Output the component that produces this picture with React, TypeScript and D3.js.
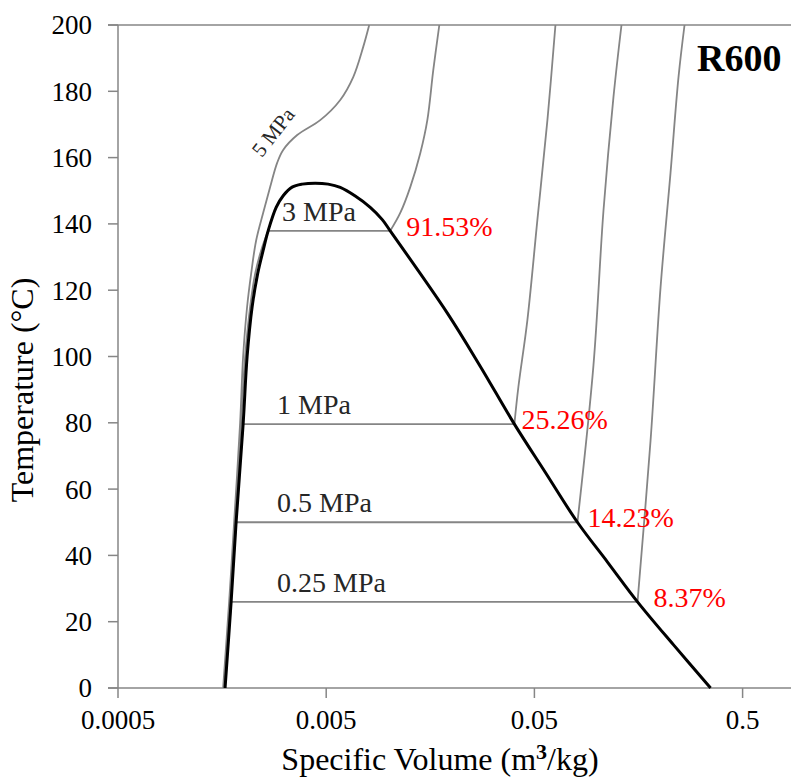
import React from 'react';
import * as d3 from 'd3';

const W = 791;
const H = 778;

// Saturation dome (specific volume m3/kg, temperature °C)
const satLiquid: [number, number][] = [
  [0.001634, 0], [0.001747, 26], [0.001846, 50], [0.001995, 79.6], [0.002085, 100],
  [0.002204, 115], [0.002343, 125], [0.002489, 132], [0.002631, 137.9], [0.002875, 145],
  [0.003107, 148.5], [0.00343, 151.1], [0.003833, 152], [0.004427, 152.3],
];
const satVapor: [number, number][] = [
  [0.005111, 152], [0.00584, 151], [0.006893, 148.4], [0.008136, 145], [0.009295, 141.3],
  [0.01015, 137.9], [0.01909, 113.1], [0.0275, 97],
  [0.04007, 79.6], [0.05648, 65], [0.08048, 50], [0.1122, 38], [0.1564, 26],
  [0.233, 13], [0.3509, 0],
];

// Isobars: compressed-liquid part, and superheated-vapour part
const liquid025: [number, number][] = [[0.001626, 0], [0.001747, 26]];
const vapor025: [number, number][] = [[0.1564, 26], [0.1806, 74.5], [0.2017, 120.7], [0.2253, 155.4], [0.2461, 184.3], [0.2631, 200]];

const liquid05: [number, number][] = [[0.001626, 0], [0.00174, 26], [0.001846, 50]];
const vapor05: [number, number][] = [[0.08048, 50], [0.0961, 97.4], [0.1073, 143.9], [0.1199, 178.3], [0.131, 200]];

const liquid1: [number, number][] = [[0.001626, 0], [0.00174, 26], [0.001836, 50], [0.001995, 79.6]];
const vapor1: [number, number][] = [[0.04007, 79.6], [0.04188, 90.8], [0.04627, 111], [0.05168, 141.2], [0.05774, 171.3], [0.0631, 200]];

const liquid3: [number, number][] = [
  [0.001616, 0], [0.001728, 26], [0.001826, 50], [0.001951, 80], [0.00204, 100],
  [0.002156, 115], [0.002279, 125], [0.002435, 132], [0.002631, 137.9],
];
const vapor3: [number, number][] = [[0.01015, 137.9], [0.01134, 143.3], [0.01267, 151.1], [0.01416, 161.4], [0.0153, 171.3], [0.01634, 186.4], [0.01747, 200]];

const isobar5: [number, number][] = [
  [0.001599, 0], [0.001709, 26], [0.001806, 50], [0.00193, 80], [0.001995, 100],
  [0.002085, 115], [0.00218, 125], [0.002304, 135], [0.002489, 143.3], [0.00269, 151.1],
  [0.002906, 158.4], [0.003107, 162.3], [0.003628, 166.8], [0.004679, 171.3], [0.00584, 177.4],
  [0.006742, 184.3], [0.00753, 193.4], [0.008046, 200],
];

const satTemps = [26, 50, 79.6, 137.9];
const isobarLabels = ['0.25 MPa', '0.5 MPa', '1 MPa', '3 MPa'];
const qualityLabels = ['8.37%', '14.23%', '25.26%', '91.53%'];
const liquidParts = [liquid025, liquid05, liquid1, liquid3];
const vaporParts = [vapor025, vapor05, vapor1, vapor3];

const xTicks = [0.0005, 0.005, 0.05, 0.5];
const xTickLabels = ['0.0005', '0.005', '0.05', '0.5'];
const yTicks = [0, 20, 40, 60, 80, 100, 120, 140, 160, 180, 200];

const FONT = "'Liberation Serif', 'Times New Roman', Times, serif";

export default function App() {
  const x = d3.scaleLog().domain([0.0005, 5]).range([118, 118 + 208.2 * 4]);
  const y = d3.scaleLinear().domain([0, 200]).range([688, 25]);

  const curve = d3
    .line<[number, number]>()
    .x((d) => x(d[0]))
    .y((d) => y(d[1]))
    .curve(d3.curveCatmullRom.alpha(0.5));

  const dome = [...satLiquid, ...satVapor];
  const grey = '#858585';
  const axisGrey = '#868686';

  const labelX = [277, 277, 277, 282];
  const qualityDx = [16, 10, 7, 16];

  return (
    <svg
      width={W}
      height={H}
      style={{ position: 'absolute', left: 0, top: 0, background: '#fff', display: 'block' }}
      fontFamily={FONT}
    >
      <rect x={0} y={0} width={W} height={H} fill="#fff" />

      {/* plot frame */}
      <line x1={108} x2={W} y1={y(200)} y2={y(200)} stroke={axisGrey} strokeWidth={1.5} />
      <line x1={x(0.0005)} x2={x(0.0005)} y1={y(200)} y2={y(0)} stroke={axisGrey} strokeWidth={1.5} />
      <line x1={108} x2={W} y1={y(0)} y2={y(0)} stroke={axisGrey} strokeWidth={1.5} />

      {/* y ticks */}
      {yTicks.map((t) => (
        <g key={'y' + t}>
          <line x1={108} x2={118} y1={y(t)} y2={y(t)} stroke={axisGrey} strokeWidth={1.5} />
          <text x={92} y={y(t)} dy="0.35em" textAnchor="end" fontSize={27} fill="#000">
            {t}
          </text>
        </g>
      ))}

      {/* x ticks */}
      {xTicks.map((t, i) => (
        <g key={'x' + t}>
          <line x1={x(t)} x2={x(t)} y1={y(0)} y2={y(0) + 10} stroke={axisGrey} strokeWidth={1.5} />
          <text x={x(t)} y={729} textAnchor="middle" fontSize={27} fill="#000">
            {xTickLabels[i]}
          </text>
        </g>
      ))}

      {/* isobars */}
      {satTemps.map((T, i) => (
        <g key={'iso' + i} fill="none" stroke={grey} strokeWidth={1.8}>
          <path d={curve(liquidParts[i]) || ''} />
          <line
            x1={x(liquidParts[i][liquidParts[i].length - 1][0])}
            x2={x(vaporParts[i][0][0])}
            y1={y(T)}
            y2={y(T)}
          />
          <path d={curve(vaporParts[i]) || ''} />
        </g>
      ))}
      <path d={curve(isobar5) || ''} fill="none" stroke={grey} strokeWidth={1.8} />

      {/* saturation dome */}
      <path d={curve(dome) || ''} fill="none" stroke="#000" strokeWidth={3} />

      {/* isobar labels */}
      {satTemps.map((T, i) => (
        <text key={'pl' + i} x={labelX[i]} y={y(T) - 10} fontSize={28} fill="#262626">
          {isobarLabels[i]}
        </text>
      ))}
      <text
        transform={`translate(273,132) rotate(-52)`}
        textAnchor="middle"
        dy="0.35em"
        fontSize={21}
        fill="#262626"
      >
        5 MPa
      </text>

      {/* quality labels */}
      {satTemps.map((T, i) => (
        <text
          key={'q' + i}
          x={x(vaporParts[i][0][0]) + qualityDx[i]}
          y={y(T) + 5}
          fontSize={28}
          fill="#ff0000"
        >
          {qualityLabels[i]}
        </text>
      ))}

      {/* title */}
      <text x={697} y={71} fontSize={38} fontWeight="bold" fill="#000">
        R600
      </text>

      {/* axis titles */}
      <text x={440} y={770} textAnchor="middle" fontSize={32} fill="#000">
        Specific Volume (m
        <tspan fontSize={22} fontWeight="bold" dy={-11}>
          3
        </tspan>
        <tspan dy={11}>/kg)</tspan>
      </text>
      <text
        transform={`translate(33,390) rotate(-90)`}
        textAnchor="middle"
        fontSize={32}
        fill="#000"
      >
        Temperature (°C)
      </text>
    </svg>
  );
}
